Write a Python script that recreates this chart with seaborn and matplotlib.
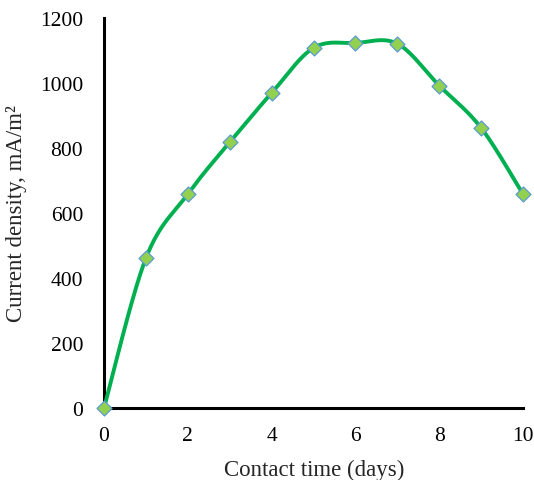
import numpy as np
import pandas as pd
import matplotlib
matplotlib.use("Agg")
import matplotlib.pyplot as plt
import seaborn as sns

# Current density measured over contact time
days = [0, 1, 2, 3, 4, 5, 6, 7, 8, 9, 10]
current_density = [0, 461, 658, 818, 969, 1108, 1123, 1121, 992, 862, 658]

x_ticks = [0, 2, 4, 6, 8, 10]
y_ticks = [0, 200, 400, 600, 800, 1000, 1200]

LINE_COLOR = "#00B050"
MARKER_FACE = "#92D050"
MARKER_EDGE = "#5B9BD5"


def smooth_curve(xs, ys, steps=40):
    """Catmull-Rom style Bezier smoothing through every point."""
    px = np.asarray(xs, dtype=float)
    py = np.asarray(ys, dtype=float)
    px_ext = np.concatenate([[px[0]], px, [px[-1]]])
    py_ext = np.concatenate([[py[0]], py, [py[-1]]])
    out_x, out_y = [], []
    t = np.linspace(0, 1, steps)
    for i in range(len(px) - 1):
        p0 = np.array([px_ext[i + 1], py_ext[i + 1]])
        p3 = np.array([px_ext[i + 2], py_ext[i + 2]])
        prev = np.array([px_ext[i], py_ext[i]])
        nxt = np.array([px_ext[i + 3], py_ext[i + 3]])
        c1 = p0 + (p3 - prev) / 6.0
        c2 = p3 - (nxt - p0) / 6.0
        b = (((1 - t) ** 3)[:, None] * p0 + (3 * (1 - t) ** 2 * t)[:, None] * c1
             + (3 * (1 - t) * t ** 2)[:, None] * c2 + (t ** 3)[:, None] * p3)
        if i > 0:
            b = b[1:]
        out_x.extend(b[:, 0])
        out_y.extend(b[:, 1])
    return np.array(out_x), np.array(out_y)


sns.set_style("white")
plt.rcParams["font.family"] = ["Liberation Serif", "DejaVu Serif"]

fig = plt.figure(figsize=(5.34, 4.81), dpi=100)
ax = fig.add_axes([104 / 534, 1 - 409 / 481, 419 / 534, 390 / 481])

sx, sy = smooth_curve(days, current_density)
curve = pd.DataFrame({"days": sx, "density": sy})
points = pd.DataFrame({"days": days, "density": current_density})

sns.lineplot(data=curve, x="days", y="density", ax=ax, color=LINE_COLOR,
             linewidth=2.8, sort=False, estimator=None, clip_on=False, zorder=3)
sns.scatterplot(data=points, x="days", y="density", ax=ax, marker="D",
                s=58, color=MARKER_FACE, edgecolor=MARKER_EDGE, linewidth=0.9,
                clip_on=False, zorder=4)

ax.set_xlim(0, 10)
ax.set_ylim(0, 1200)
ax.set_xticks(x_ticks)
ax.set_yticks(y_ticks)
ax.set_xticklabels([str(v) for v in x_ticks])
ax.set_yticklabels([str(v) for v in y_ticks])

for side in ("top", "right"):
    ax.spines[side].set_visible(False)
for side in ("left", "bottom"):
    ax.spines[side].set_linewidth(2.2)
    ax.spines[side].set_color("black")

ax.tick_params(axis="both", which="major", direction="out", length=5,
               width=2.2, color="black", labelsize=15.5, labelcolor="black")
ax.tick_params(axis="y", pad=10)
ax.tick_params(axis="x", pad=8)

ax.set_xlabel("")
ax.set_ylabel("")
fig.text(314 / 534, 1 - 470 / 481, "Contact time (days)", ha="center",
         va="center", fontsize=16.5)
fig.text(17 / 534, 1 - 214 / 481, "Current density, mA/m²", ha="center",
         va="center", rotation=90, fontsize=16.5)

fig.savefig("out.png", dpi=100)
